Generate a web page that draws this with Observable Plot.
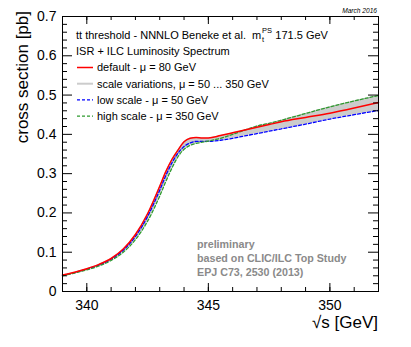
<!DOCTYPE html>
<html><head><meta charset="utf-8">
<script src="https://cdn.jsdelivr.net/npm/d3@7"></script>
<script src="https://cdn.jsdelivr.net/npm/@observablehq/plot@0.6"></script>
<style>
body{margin:0;background:#fff}
svg{font-family:"Liberation Sans",Arial,Helvetica,sans-serif}
</style>
</head><body><div id="chart"></div>
<script>
// ---- data ----
const energy      = [339, 339.5, 340, 340.5, 341, 341.5, 342, 342.5, 343, 343.25, 343.5, 343.75, 344, 344.25, 344.5, 344.75, 345, 345.5, 346, 346.5, 347, 347.5, 348, 349, 350, 351, 352];
const xsDefault   = [0.042, 0.049, 0.058, 0.069, 0.084, 0.108, 0.145, 0.198, 0.268, 0.305, 0.336, 0.360, 0.381, 0.390, 0.392, 0.391, 0.391, 0.397, 0.404, 0.411, 0.418, 0.425, 0.432, 0.443, 0.454, 0.467, 0.481];
const xsLowScale  = [0.041, 0.048, 0.057, 0.067, 0.082, 0.105, 0.140, 0.191, 0.258, 0.295, 0.327, 0.352, 0.369, 0.378, 0.382, 0.382, 0.382, 0.385, 0.390, 0.396, 0.402, 0.408, 0.414, 0.426, 0.439, 0.450, 0.461];
const xsHighScale = [0.040, 0.047, 0.055, 0.065, 0.079, 0.100, 0.132, 0.179, 0.243, 0.280, 0.314, 0.343, 0.362, 0.372, 0.377, 0.380, 0.383, 0.390, 0.400, 0.411, 0.421, 0.428, 0.436, 0.453, 0.470, 0.485, 0.499];

const xMajorTicks = [340, 345, 350];
const xMinorTicks = [340, 341, 342, 343, 344, 345, 346, 347, 348, 349, 350, 351];
const yMajorTicks = [0, 0.1, 0.2, 0.3, 0.4, 0.5, 0.6, 0.7];
const yTickLabels = ["0", "0.1", "0.2", "0.3", "0.4", "0.5", "0.6", "0.7"];
const yMinorTicks = [0.02, 0.04, 0.06, 0.08, 0.12, 0.14, 0.16, 0.18, 0.22, 0.24, 0.26, 0.28, 0.32, 0.34, 0.36, 0.38, 0.42, 0.44, 0.46, 0.48, 0.52, 0.54, 0.56, 0.58, 0.62, 0.64, 0.66, 0.68];

const xTitle = "\u221As [GeV]";
const yTitle = "cross section [pb]";
const stamp = "March 2016";
const headerLine1 = "tt threshold - NNNLO Beneke et al.  m";
const headerMassSup = "PS";
const headerMassSub = "t";
const headerMassValue = " 171.5 GeV";
const headerLine2 = "ISR + ILC Luminosity Spectrum";
const legendLabels = ["default - \u03BC = 80 GeV", "scale variations, \u03BC = 50 ... 350 GeV", "low scale - \u03BC = 50 GeV", "high scale - \u03BC = 350 GeV"];
const noteLines = ["preliminary", "based on CLIC/ILC Top Study", "EPJ C73, 2530 (2013)"];

// ---- table ----
const rows = energy.map((e, i) => ({
  e, def: xsDefault[i], low: xsLowScale[i], high: xsHighScale[i],
  lo: Math.min(xsDefault[i], xsLowScale[i], xsHighScale[i]),
  hi: Math.max(xsDefault[i], xsLowScale[i], xsHighScale[i])
}));

const W = 411, H = 347, mL = 62, mR = 33, mT = 16, mB = 56;
const pw = W - mL - mR, ph = H - mT - mB;
const RED = "#ff0000", BLUE = "#0000ff", GREEN = "#2e9a2e", GRAY = "#cccccc";

const svg = Plot.plot({
  width: W, height: H,
  marginLeft: mL, marginRight: mR, marginTop: mT, marginBottom: mB,
  style: {fontFamily: '"Liberation Sans", Arial, sans-serif', background: "#fff", color: "#000"},
  x: {domain: [339, 352], axis: null},
  y: {domain: [0, 0.7], axis: null},
  marks: [
    Plot.areaY(rows, {x: "e", y1: "lo", y2: "hi", fill: GRAY, curve: "monotone-x"}),
    Plot.line(rows, {x: "e", y: "low", stroke: BLUE, strokeWidth: 1.3, strokeDasharray: "3,2", curve: "monotone-x"}),
    Plot.line(rows, {x: "e", y: "high", stroke: GREEN, strokeWidth: 1.3, strokeDasharray: "3,2", curve: "monotone-x"}),
    Plot.line(rows, {x: "e", y: "def", stroke: RED, strokeWidth: 1.5, curve: "monotone-x"}),
    // inward ticks, all four sides
    Plot.tickX(xMinorTicks, {x: d => d, insetTop: ph - 4, stroke: "#000"}),
    Plot.tickX(xMajorTicks, {x: d => d, insetTop: ph - 8, stroke: "#000"}),
    Plot.tickX(xMinorTicks, {x: d => d, insetBottom: ph - 4, stroke: "#000"}),
    Plot.tickX(xMajorTicks, {x: d => d, insetBottom: ph - 8, stroke: "#000"}),
    Plot.tickY(yMinorTicks, {y: d => d, insetRight: pw - 5, stroke: "#000"}),
    Plot.tickY(yMajorTicks, {y: d => d, insetRight: pw - 10, stroke: "#000"}),
    Plot.tickY(yMinorTicks, {y: d => d, insetLeft: pw - 5, stroke: "#000"}),
    Plot.tickY(yMajorTicks, {y: d => d, insetLeft: pw - 10, stroke: "#000"}),
    Plot.frame({stroke: "#000", strokeWidth: 1}),
    Plot.axisX({ticks: xMajorTicks, tickSize: 0, tickPadding: 9, fontSize: 14, label: null, tickFormat: d => String(d)}),
    Plot.axisY({ticks: yMajorTicks, tickSize: 0, tickPadding: 6, fontSize: 14, label: null, tickFormat: (d, i) => yTickLabels[i]})
  ]
});
document.getElementById("chart").appendChild(svg);

// ---- titles & legend (SVG text overlay) ----
const g = d3.select(svg).append("g").attr("fill", "#000").attr("text-anchor", "start");
g.append("text").attr("x", W - mR).attr("y", 328).attr("text-anchor", "end").attr("font-size", 17).text(xTitle);
g.append("text").attr("transform", "translate(28,11) rotate(-90)").attr("text-anchor", "end").attr("font-size", 17).text(yTitle);
g.append("text").attr("x", W - mR - 1).attr("y", 13).attr("text-anchor", "end").attr("font-size", 6.6).attr("font-style", "italic").text(stamp);

const lx = 76, fs = 11;
const t1 = g.append("text").attr("x", lx).attr("y", 39).attr("font-size", fs).text(headerLine1);
const w1 = t1.node().getComputedTextLength();
g.append("text").attr("x", lx + w1 + 0.8).attr("y", 33).attr("font-size", 7.5).text(headerMassSup);
g.append("text").attr("x", lx + w1 + 0.8).attr("y", 42).attr("font-size", 7.5).text(headerMassSub);
g.append("text").attr("x", lx + w1 + 11).attr("y", 39).attr("font-size", fs).text(headerMassValue);
g.append("text").attr("x", lx).attr("y", 55).attr("font-size", fs).text(headerLine2);

const legendStyles = [
  {stroke: RED, width: 1.5, dash: null},
  {stroke: GRAY, width: 2, dash: null},
  {stroke: BLUE, width: 1.3, dash: "3,2"},
  {stroke: GREEN, width: 1.3, dash: "3,2"}
];
const legendBase = [71.3, 87.5, 103.7, 120];
legendLabels.forEach((lab, i) => {
  const yb = legendBase[i];
  const s = legendStyles[i];
  g.append("line").attr("x1", 77).attr("x2", 93).attr("y1", yb - 3.8).attr("y2", yb - 3.8)
    .attr("stroke", s.stroke).attr("stroke-width", s.width).attr("stroke-dasharray", s.dash);
  g.append("text").attr("x", 97).attr("y", yb).attr("font-size", fs).text(lab);
});

const noteBase = [247.5, 262, 276];
noteLines.forEach((t, i) => {
  g.append("text").attr("x", 197).attr("y", noteBase[i]).attr("font-size", 10.7).attr("font-weight", "bold").attr("fill", "#8a8a8a").text(t);
});
</script>
</body></html>
